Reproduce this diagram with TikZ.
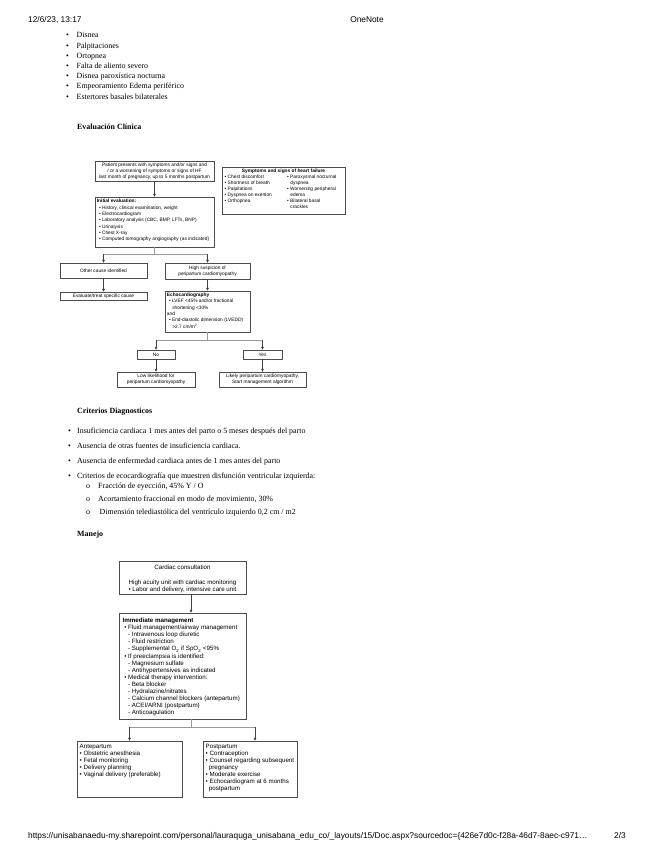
\documentclass[tikz,border=0pt]{standalone}
\usepackage{fontspec}
\setmainfont{Liberation Serif}
\newfontfamily\arialf{Liberation Sans}
\usetikzlibrary{arrows.meta,fit}
\tikzset{
  hdr/.style={font=\arialf\fontsize{7.8}{9}\selectfont, inner sep=0pt},
  body/.style={font=\fontsize{7.4}{8.8}\selectfont, inner sep=0pt, anchor=base west},
  bhead/.style={body, font=\bfseries\fontsize{7.4}{8.8}\selectfont},
  fcbox/.style={draw=black!70, line width=0.45pt, inner sep=0pt},
  ft1/.style={font=\arialf\fontsize{4.5}{5.6}\selectfont, inner sep=0pt},
  ft1b/.style={font=\arialf\fontsize{4.5}{5.9}\selectfont, inner sep=0pt},
  ft2/.style={font=\arialf\fontsize{5.8}{6.6}\selectfont, inner sep=0pt},
  conn/.style={draw=black!40, line width=0.4pt},
  arr/.style={draw=black!75, line width=0.45pt, -{Triangle[length=2.6pt,width=2.4pt]}},
}
\begin{document}
\begin{tikzpicture}[x=0.93435pt,y=-0.93435pt]
\fill[white] (0,0) rectangle (655,848);
\path[use as bounding box] (0,0) rectangle (655,848);

% header / footer
\node[hdr, anchor=base west] (date) at (28,23) {12/6/23, 13:17};
\node[hdr, anchor=base] (app) at (367,23) {OneNote};
\node[hdr, anchor=base west] (url) at (28,838) {https://unisabanaedu-my.sharepoint.com/personal/lauraquga\_unisabana\_edu\_co/\_layouts/15/Doc.aspx?sourcedoc=\{426e7d0c-f28a-46d7-8aec-c971…};
\node[hdr, anchor=base east] (pg) at (626,838) {2/3};

% symptom list
\foreach[count=\i] \t in {Disnea, Palpitaciones, Ortopnea, Falta de aliento severo, Disnea paroxística nocturna, Empeoramiento Edema periférico, Estertores basales bilaterales}{
  \node[body] (s\i) at (76.5, 27.8+10.2*\i) {\t};
  \node[body, anchor=base] (sb\i) at (67.5, 27.8+10.2*\i) {•};
}

\node[bhead] (evh) at (77,129.5) {Evaluación Clínica};

% ---------- flowchart 1 ----------
\node[fcbox, fit={(95,161)(214,181)}] (top) {};
\node[fcbox, fit={(222,167)(345,214)}] (sym) {};
\node[fcbox, fit={(95,197)(214,247)}] (ieval) {};
\node[fcbox, fit={(60,263)(147,278)}] (other) {};
\node[fcbox, fit={(165,263)(250,279)}] (high) {};
\node[fcbox, fit={(60,292)(147,300)}] (treat) {};
\node[fcbox, fit={(165,291)(250,332)}] (echo) {};
\node[fcbox, fit={(137,350)(175,359)}] (no) {};
\node[fcbox, fit={(243,350)(282,359)}] (yes) {};
\node[fcbox, fit={(117,372)(195,387)}] (low) {};
\node[fcbox, fit={(219,372)(306,387)}] (likely) {};

\node[ft1, align=center] (topt) at (top.center) {Patient presents with symptoms and/or signs and\\/ or a worsening of symptoms or signs of HF\\last month of pregnancy, up to 5 months postpartum};
\node[ft1, anchor=north, font=\arialf\bfseries\fontsize{4.5}{5.6}\selectfont] (symh) at ([yshift=-1.6pt]sym.north) {Symptoms and signs of heart failure};
\node[ft1, align=left, anchor=north west] (syml) at (224.5,174.5) {• Chest discomfort\\• Shortness of breath\\• Palpitations\\• Dyspnea on exertion\\• Orthopnea};
\node[ft1, align=left, anchor=north west] (symr) at (287,174.5) {• Paroxysmal nocturnal\\\hspace*{3pt}dyspnea\\• Worsening peripheral\\\hspace*{3pt}edema\\• Bilateral basal\\\hspace*{3pt}crackles};
\node[ft1b, align=left, anchor=north west] (ievalt) at ([shift={(1.8pt,-2.2pt)}]ieval.north west) {\textbf{Initial evaluation:}\\\hspace*{2pt}• History, clinical examination, weight\\\hspace*{2pt}• Electrocardiogram\\\hspace*{2pt}• Laboratory analysis (CBC, BMP, LFTs, BNP)\\\hspace*{2pt}• Urinalysis\\\hspace*{2pt}• Chest X-ray\\\hspace*{2pt}• Computed tomography angiography (as indicated)};
\node[ft1] (othert) at (other.center) {Other cause identified};
\node[ft1, align=center] (hight) at (high.center) {High suspicion of\\peripartum cardiomyopathy};
\node[ft1] (treatt) at (treat.center) {Evaluate/treat specific cause};
\node[ft1b, align=left, anchor=north west] (echot) at ([shift={(1.8pt,-2pt)}]echo.north west) {\textbf{Echocardiography}\\\hspace*{2pt}• LVEF <45\% and/or fractional\\\hspace*{5pt}shortening <30\%\\and\\\hspace*{2pt}• End-diastolic dimension (LVEDD)\\\hspace*{5pt}>2.7 cm/m\textsuperscript{2}};
\node[ft1] (not) at (no.center) {No};
\node[ft1] (yest) at (yes.center) {Yes};
\node[ft1, align=center] (lowt) at (low.center) {Low likelihood for\\peripartum cardiomyopathy};
\node[ft1, align=center] (likelyt) at (likely.center) {Likely peripartum cardiomyopathy,\\Start management algorithm};

\coordinate (j1) at (154.5,254);
\coordinate (j2) at (207.5,340);
\draw[arr] (top.south) -- (ieval.north);
\draw[conn] (ieval.south) -- (j1);
\draw[conn] (other.north |- j1) -- (high.north |- j1);
\draw[arr] (other.north |- j1) -- (other.north);
\draw[arr] (high.north |- j1) -- (high.north);
\draw[arr] (other.south) -- (treat.north);
\draw[arr] (high.south) -- (echo.north);
\draw[conn] (echo.south) -- (j2);
\draw[conn] (no.north |- j2) -- (yes.north |- j2);
\draw[arr] (no.north |- j2) -- (no.north);
\draw[arr] (yes.north |- j2) -- (yes.north);
\draw[arr] (no.south) -- (low.north);
\draw[arr] (yes.south) -- (likely.north);

% ---------- criterios ----------
\node[bhead] (crit) at (77,413.5) {Criterios Diagnosticos};
\node[body] (c1) at (77,433.5) {Insuficiencia cardiaca 1 mes antes del parto o 5 meses después del parto};
\node[body] (c2) at (77,448.5) {Ausencia de otras fuentes de insuficiencia cardiaca.};
\node[body] (c3) at (77,463.5) {Ausencia de enfermedad cardiaca antes de 1 mes antes del parto};
\node[body] (c4) at (77,478.5) {Criterios de ecocardiografía que muestren disfunción ventricular izquierda:};
\foreach \i/\yy in {1/433.5,2/448.5,3/463.5,4/478.5}{\node[body, anchor=base] (cb\i) at (69.5,\yy) {•};}
\node[body] (d1) at (98,488.5) {Fracción de eyección, 45\% Y / O};
\node[body] (d2) at (98,501.5) {Acortamiento fraccional en modo de movimiento, 30\%};
\node[body] (d3) at (99.5,514.5) {Dimensión telediastólica del ventrículo izquierdo 0,2 cm / m2};
\foreach \i/\yy in {1/488.5,2/501.5,3/514.5}{\node[body, anchor=base] (db\i) at (88,\yy) {o};}

% ---------- manejo ----------
\node[bhead] (man) at (77,536.5) {Manejo};
\node[fcbox, fit={(119,561)(246,594)}] (cc) {};
\node[fcbox, fit={(119,613)(246,719)}] (im) {};
\node[fcbox, fit={(77,741)(182,797)}] (ante) {};
\node[fcbox, fit={(203,741)(297,797)}] (post) {};

\node[ft2] (cct) at (182.5,567.5) {Cardiac consultation};
\node[ft2, align=center, font=\arialf\fontsize{5.8}{6.4}\selectfont] (cct2) at (182.5,586) {High acuity unit with cardiac monitoring\\• Labor and delivery, intensive care unit};
\node[ft2, align=left, anchor=north west] (imt) at (122.5,618) {\textbf{Immediate management}\\
\hspace*{1.5pt}• Fluid management/airway management\\
\hspace*{5pt}- Intravenous loop diuretic\\
\hspace*{5pt}- Fluid restriction\\
\hspace*{5pt}- Supplemental O\textsubscript{2} if SpO\textsubscript{2} <95\%\\
\hspace*{1.5pt}• If preeclampsia is identified:\\
\hspace*{5pt}- Magnesium sulfate\\
\hspace*{5pt}- Antihypertensives as indicated\\
\hspace*{1.5pt}• Medical therapy intervention:\\
\hspace*{5pt}- Beta blocker\\
\hspace*{5pt}- Hydralazine/nitrates\\
\hspace*{5pt}- Calcium channel blockers (antepartum)\\
\hspace*{5pt}- ACEI/ARNI (postpartum)\\
\hspace*{5pt}- Anticoagulation};
\node[ft2, align=left, anchor=north west] (antet) at (79.5,744) {Antepartum\\• Obstetric anesthesia\\• Fetal monitoring\\• Delivery planning\\• Vaginal delivery (preferable)};
\node[ft2, align=left, anchor=north west] (postt) at (205.5,744) {Postpartum\\• Contraception\\• Counsel regarding subsequent\\\hspace*{3pt}pregnancy\\• Moderate exercise\\• Echocardiogram at 6 months\\\hspace*{3pt}postpartum};

\coordinate (k1) at (191,727);
\coordinate (k2) at (255,727);
\draw[arr] (cc.south -| k1) -- (im.north -| k1);
\draw[conn] (im.south -| k1) -- (k1);
\draw[conn] (ante.north |- k1) -- (k2);
\draw[arr] (ante.north |- k1) -- (ante.north);
\draw[arr] (k2) -- (k2 |- post.north);
\end{tikzpicture}
\end{document}
